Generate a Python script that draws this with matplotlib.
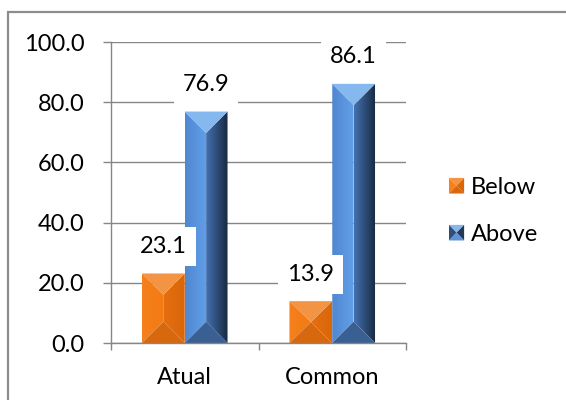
import numpy as np
import matplotlib
matplotlib.use('Agg')
import matplotlib.pyplot as plt
from matplotlib.patches import Polygon, Rectangle, Patch
from matplotlib.legend_handler import HandlerBase
from matplotlib.colors import LinearSegmentedColormap

plt.rcParams['font.family'] = ['Lato', 'DejaVu Sans']

# data
categories = ['Atual', 'Common']
below = [23.1, 13.9]
above = [76.9, 86.1]
series_names = ['Below', 'Above']
yticks = [0, 20, 40, 60, 80, 100]

# bevel colours: top, left (from, to), right (from, to), bottom, legend sides
orange = dict(top='#F39445', left=('#F5801C', '#F47A14'), right=('#E56F10', '#D9660A'),
              bottom='#D8680E', leg=('#F5801C', '#D9660A', '#D8680E'))
blue = dict(top='#86B8F0', left=('#5088D0', '#629FE9'), right=('#4371B0', '#182940'),
            bottom='#3A5F92', leg=('#2E4E7E', '#22395C', '#5D93D8'))

W, H = 566, 400
fig = plt.figure(figsize=(W / 100, H / 100), dpi=100)
ax_pos = [111 / W, 57 / H, 295 / W, 301 / H]
ax = fig.add_axes(ax_pos)

ftsize = 17
grey = '#868686'

x = np.arange(len(categories))
bw = 0.29
bars_below = ax.bar(x - bw / 2, below, bw, color=orange['left'][0], zorder=2)
bars_above = ax.bar(x + bw / 2, above, bw, color=blue['left'][0], zorder=2)

xlim = (-0.5, 1.5)
ylim = (0, 100)

# pixels per data unit, used to keep the bevel at 45 degrees
sx = ax_pos[2] * W / (xlim[1] - xlim[0])
sy = ax_pos[3] * H / (ylim[1] - ylim[0])


def shade(verts, c1, c2, x0, x1, y0, y1, z):
    cmap = LinearSegmentedColormap.from_list('g', [c1, c2])
    grad = np.linspace(0, 1, 64).reshape(1, -1)
    im = ax.imshow(grad, cmap=cmap, extent=(x0, x1, y0, y1), aspect='auto',
                   zorder=z, interpolation='bilinear')
    poly = Polygon(verts, closed=True, facecolor='none', edgecolor='none')
    ax.add_patch(poly)
    im.set_clip_path(poly)


def bevel(p, cols):
    x0, w, h = p.get_x(), p.get_width(), p.get_height()
    xc, x1 = x0 + w / 2, x0 + w
    d = min((w / 2) * sx / sy, h / 2)
    p.set_visible(False)
    shade([(x0, 0), (x0, h), (xc, h - d), (xc, d)], *cols['left'], x0, xc, 0, h, 2)
    shade([(xc, d), (xc, h - d), (x1, h), (x1, 0)], *cols['right'], xc, x1, 0, h, 2)
    ax.add_patch(Polygon([(x0, h), (x1, h), (xc, h - d)], closed=True,
                         facecolor=cols['top'], edgecolor='none', zorder=2.1))
    ax.add_patch(Polygon([(x0, 0), (x1, 0), (xc, d)], closed=True,
                         facecolor=cols['bottom'], edgecolor='none', zorder=2.1))


for p in bars_below:
    bevel(p, orange)
for p in bars_above:
    bevel(p, blue)

# value labels with white boxes
for bars, vals in ((bars_below, below), (bars_above, above)):
    for p, v in zip(bars, vals):
        ax.annotate(f'{v:.1f}', (p.get_x() + p.get_width() / 2, v),
                    xytext=(0, 19.5), textcoords='offset points',
                    ha='center', va='center', fontsize=ftsize,
                    bbox=dict(boxstyle='square,pad=0.38', fc='white', ec='none'),
                    zorder=5)

ax.set_xlim(*xlim)
ax.set_ylim(*ylim)

ax.set_yticks(yticks)
ax.set_yticklabels([f'{t:.1f}' for t in yticks])
ax.tick_params(axis='y', length=6, width=1, color=grey, pad=13, labelsize=ftsize)

ax.set_xticks(x)
ax.set_xticklabels(categories)
ax.tick_params(axis='x', which='major', length=0, pad=17, labelsize=ftsize)
ax.set_xticks([-0.5, 0.5, 1.5], minor=True)
ax.tick_params(axis='x', which='minor', length=5, width=1, color=grey)

ax.yaxis.grid(True, color=grey, linewidth=1)
ax.set_axisbelow(True)
for s in ('top', 'right'):
    ax.spines[s].set_visible(False)
for s in ('left', 'bottom'):
    ax.spines[s].set_color(grey)
    ax.spines[s].set_linewidth(1)


# legend with bevelled squares
class HandlerBevel(HandlerBase):
    def __init__(self, cols):
        super().__init__()
        self.cols = cols

    def create_artists(self, legend, orig_handle, xdescent, ydescent, width,
                       height, fontsize, trans):
        x0, y0 = -xdescent, -ydescent
        x1, y1 = x0 + width, y0 + height
        c = ((x0 + x1) / 2, (y0 + y1) / 2)
        left, right, bottom = self.cols['leg']
        faces = [
            ([(x0, y1), (x1, y1), c], self.cols['top']),
            ([(x0, y0), (x0, y1), c], left),
            ([(x1, y0), (x1, y1), c], right),
            ([(x0, y0), (x1, y0), c], bottom),
        ]
        return [Polygon(v, closed=True, facecolor=fc, edgecolor='none', transform=trans)
                for v, fc in faces]


h_below = Patch(label=series_names[0])
h_above = Patch(label=series_names[1])
fig.legend(handles=[h_below, h_above],
           handler_map={h_below: HandlerBevel(orange), h_above: HandlerBevel(blue)},
           loc='center left', bbox_to_anchor=(449 / W, 1 - 211 / H),
           frameon=False, fontsize=ftsize, handlelength=0.64, handleheight=0.64,
           handletextpad=0.28, labelspacing=1.1, borderpad=0, borderaxespad=0)

# outer chart border (cut off at the right and bottom)
fig.add_artist(Rectangle((8 / W, -0.1), 1.2, 1 - 12 / H + 0.1, transform=fig.transFigure,
                         fill=False, edgecolor='#8C8C8C', linewidth=1.6))

fig.savefig('out.png', dpi=100)
